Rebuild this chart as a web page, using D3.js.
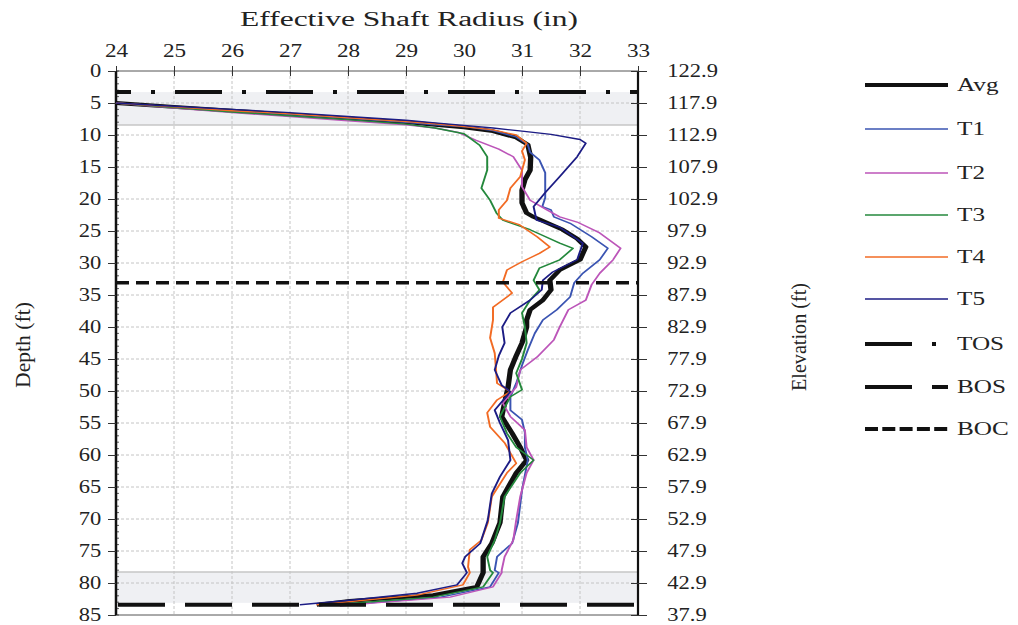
<!DOCTYPE html>
<html>
<head>
<meta charset="utf-8">
<script src="https://cdn.jsdelivr.net/npm/d3@7/dist/d3.min.js"></script>
<style>
  body { margin: 0; background: #fff; }
  text { font-family: "Liberation Serif", "Times New Roman", serif; fill: #222; }
</style>
</head>
<body>
<div id="chart"></div>
<script>
///////////////////////////// DATA /////////////////////////////////////

// each point is [depth (ft), effective radius (in)]
avgData = [[5,24],[5.6,25],[6.2,26],[6.8,27],[7.4,28],[8.0,29],[8.4,29.5],[8.8,30],[9.4,30.5],[10.4,30.9],[11.5,31.1],[12.3,31.12],[13.5,31.15],[15.5,31.14],[17,31.05],[18.6,31.0],[20.6,31.0],[22.2,31.08],[22.8,31.2],[24.8,31.7],[26.2,31.95],[27.5,32.1],[29.5,32.0],[31.1,31.65],[32.7,31.48],[34.2,31.5],[35.8,31.36],[37.3,31.14],[38.9,31.08],[40,31.08],[42.5,31.0],[44.5,30.9],[46.7,30.8],[49.4,30.76],[51.9,30.7],[54,30.65],[56.6,30.83],[58.8,30.97],[60.8,31.08],[62.8,30.9],[66.5,30.67],[70.6,30.62],[73.8,30.48],[75.9,30.33],[78,30.33],[78.4,30.33],[80.6,30.22],[81.9,29.47],[82.8,28.03],[83.4,27.46]];

t1Data = [[5,24],[5.6,25],[6.2,26],[6.8,27],[7.4,28],[8.0,29],[8.4,29.5],[8.7,30],[9.3,30.5],[10.3,30.9],[11.5,31.1],[12.7,31.14],[13.9,31.3],[15.9,31.4],[18,31.4],[19.8,31.4],[21.2,31.35],[21.7,31.5],[22.8,31.55],[23.8,31.83],[25.9,32.2],[27.7,32.48],[29.5,32.34],[31.6,32.05],[33.1,31.9],[35.3,31.83],[37.3,31.6],[38.9,31.36],[41,31.22],[43.6,31.1],[46,31.0],[48.8,30.9],[50.9,30.8],[53,30.8],[54.5,31.0],[56.5,31.05],[58.8,31.05],[60.8,31.1],[65.5,31.0],[70.6,30.93],[73.8,30.83],[75.9,30.57],[78,30.53],[78.4,30.6],[80.6,30.45],[82.2,29.6],[83.1,28.4],[83.5,27.7]];

t2Data = [[5,24],[5.8,25],[6.5,26],[7.1,27],[7.8,28],[8.4,29],[8.9,29.5],[9.6,29.9],[10.8,30.2],[12.2,30.6],[13.4,30.85],[15.5,31.0],[18.1,31.0],[20.2,31.14],[21.7,31.43],[22.8,31.65],[23.6,31.95],[25.3,32.34],[27.7,32.7],[29.5,32.57],[31.6,32.34],[33.4,32.2],[35.8,32.1],[37.3,31.8],[40,31.65],[42,31.55],[44.7,31.26],[46.7,30.97],[49.4,30.9],[51.9,30.67],[54,30.8],[56.1,31.05],[58.8,31.08],[60.8,31.2],[62.8,31.08],[66.5,30.97],[70.2,30.9],[73.3,30.85],[75.9,30.7],[78,30.65],[78.4,30.65],[80.6,30.5],[82.2,29.76],[83.1,28.47],[83.6,27.86]];

t3Data = [[5,24],[5.7,25],[6.4,26],[7.0,27],[7.6,28],[8.3,29],[8.9,29.5],[9.8,30],[11.6,30.27],[13.4,30.4],[15.5,30.4],[18.3,30.3],[20.2,30.45],[22.2,30.56],[23.3,30.67],[24.8,31.14],[26.9,31.65],[27.7,31.88],[29.5,31.65],[30.8,31.3],[32.7,31.2],[34.2,31.3],[35.8,31.14],[37.8,31.0],[40,31.05],[42.5,31.08],[45,31.0],[47.2,30.9],[49.8,31.0],[50.9,30.8],[54,30.62],[56.6,30.74],[58.8,30.9],[60.8,31.2],[62.8,30.97],[66.5,30.7],[70.6,30.62],[73.3,30.53],[75.9,30.4],[78,30.45],[78.4,30.5],[80.6,30.33],[82.2,29.47],[83,28.3],[83.5,27.6]];

t4Data = [[5,24],[5.6,25],[6.2,26],[6.7,27],[7.3,28],[7.9,29],[8.25,29.5],[8.7,30],[9.2,30.5],[10.0,30.9],[11.3,31.08],[12.5,31.0],[13.9,31.05],[16.5,30.97],[18.3,30.8],[20.2,30.74],[21.7,30.6],[23.0,30.6],[24.0,30.95],[25.9,31.26],[27.5,31.48],[28.5,31.3],[29.8,31.0],[31.1,30.74],[33,30.67],[34.7,30.83],[36.9,30.5],[38.9,30.5],[41.7,30.45],[44.1,30.53],[48.8,30.57],[50.1,30.8],[51.4,30.57],[53.4,30.4],[55.6,30.45],[58.1,30.7],[61.3,30.9],[62.8,30.74],[66.5,30.48],[70.6,30.41],[73.3,30.3],[74.8,30.1],[77.5,30.07],[78.4,30.1],[80.3,29.98],[81.9,29.19],[83.4,27.46]];

t5Data = [[5,24],[5.5,25],[6.0,26],[6.5,27],[7.1,28],[7.7,29],[8.1,29.5],[8.5,30],[8.9,30.5],[9.4,31],[9.9,31.5],[10.7,32.0],[11.3,32.1],[13.4,31.95],[16.5,31.65],[19,31.4],[21.2,31.2],[23.3,31.25],[24.4,31.65],[26.9,32.05],[29.5,31.95],[31.4,31.53],[32.7,31.36],[34.2,31.34],[35.8,31.14],[37.8,30.8],[40,30.66],[42.5,30.7],[44.5,30.6],[46.7,30.53],[49.1,30.65],[50.1,30.8],[53,30.53],[55,30.62],[57.7,30.76],[60.8,30.8],[63.4,30.62],[66,30.48],[70.2,30.41],[73.8,30.28],[75.9,30.02],[76.9,29.97],[78.4,30.05],[80.3,29.88],[81.6,29.19],[82.7,28.03],[83.4,27.17]];

seriesNames = ["Avg", "T1", "T2", "T3", "T4", "T5"];
seriesColors = ["#111111", "#3a54b2", "#bc55b9", "#24883c", "#f26b24", "#1c1c84"];

// marker depths (ft)
tosDepth = 3.3;
bocDepth = 33.1;
bosDepth = 83.4;
// shaded zones [top, bottom] depth (ft)
shadeZones = [[3.3, 8.45], [78.3, 83.1]];

radiusTicks = [24, 25, 26, 27, 28, 29, 30, 31, 32, 33];
depthTicks = d3.range(0, 86, 5);
topElevation = 122.9;

///////////////////////////// CHART OPTIONS /////////////////////////////////////

width = 1018;
height = 625;
plotLeft = 116;
plotRight = 638;
plotTop = 71;
plotBottom = 615;
stretch = 1.4; // source picture is stretched sideways, so vertical strokes look heavier

xScale = d3.scaleLinear().domain([24, 33]).range([plotLeft, plotRight]);
yScale = d3.scaleLinear().domain([0, 85]).range([plotTop, plotBottom]);

svg = d3.select("#chart").append("svg")
    .attr("width", width)
    .attr("height", height);

// shaded zones
svg.selectAll(".zone")
    .data(shadeZones).enter()
    .append("rect")
    .attr("class", "zone")
    .attr("x", plotLeft)
    .attr("width", plotRight - plotLeft)
    .attr("y", d => yScale(d[0]))
    .attr("height", d => yScale(d[1]) - yScale(d[0]))
    .attr("fill", "#eff0f3");

svg.selectAll(".zoneEdge")
    .data([shadeZones[0][1], shadeZones[1][0]]).enter()
    .append("line")
    .attr("x1", plotLeft).attr("x2", plotRight)
    .attr("y1", d => yScale(d)).attr("y2", d => yScale(d))
    .attr("stroke", "#c6c6c6")
    .attr("stroke-width", 1.5);

// grid
svg.append("g").selectAll("line")
    .data(radiusTicks.slice(1, -1)).enter()
    .append("line")
    .attr("x1", d => xScale(d)).attr("x2", d => xScale(d))
    .attr("y1", plotTop).attr("y2", plotBottom)
    .attr("stroke", "#c4c4c4")
    .attr("stroke-dasharray", "3,2");

svg.append("g").selectAll("line")
    .data(depthTicks.slice(1, -1)).enter()
    .append("line")
    .attr("x1", plotLeft).attr("x2", plotRight)
    .attr("y1", d => yScale(d)).attr("y2", d => yScale(d))
    .attr("stroke", "#c4c4c4")
    .attr("stroke-dasharray", "3,2");

// frame
svg.append("line").attr("x1", plotLeft).attr("x2", plotRight).attr("y1", plotTop).attr("y2", plotTop)
    .attr("stroke", "#555").attr("stroke-width", 1);
svg.append("line").attr("x1", plotLeft).attr("x2", plotRight).attr("y1", plotBottom).attr("y2", plotBottom)
    .attr("stroke", "#555").attr("stroke-width", 1);

// minor ticks on left edge
svg.append("g").selectAll("line")
    .data(d3.range(0, 86, 1)).enter()
    .append("line")
    .attr("x1", plotLeft).attr("x2", plotLeft + 3)
    .attr("y1", d => yScale(d)).attr("y2", d => yScale(d))
    .attr("stroke", "#333").attr("stroke-width", 0.8);

///////////////////////////// AXES /////////////////////////////////////

topAxis = d3.axisTop(xScale).tickValues(radiusTicks).tickSize(5).tickFormat(d3.format("d"));
leftAxis = d3.axisLeft(yScale).tickValues(depthTicks).tickSize(8).tickFormat(d3.format("d"));
rightAxis = d3.axisRight(yScale).tickValues(depthTicks).tickSize(8)
    .tickFormat(d => (topElevation - d).toFixed(1));

gTop = svg.append("g").attr("transform", `translate(0, ${plotTop})`).call(topAxis);
gTop.select(".domain").remove();
gTop.selectAll(".tick line").attr("y1", 5).attr("y2", -5).attr("stroke", "#333");
gTop.selectAll(".tick text")
    .attr("y", -14)
    .attr("transform", "scale(1.22,1)")
    .style("font-size", "19px");

gLeft = svg.append("g").attr("transform", `translate(${plotLeft}, 0)`).call(leftAxis);
gLeft.select(".domain").attr("stroke", "#111").attr("stroke-width", 2.5).attr("d", `M0,${plotTop}V${plotBottom}`);
gLeft.selectAll(".tick line").attr("stroke", "#333");
gLeft.selectAll(".tick text")
    .attr("x", -12)
    .attr("dy", "0.31em")
    .attr("transform", "scale(1.22,1)")
    .style("font-size", "18.5px");

gRight = svg.append("g").attr("transform", `translate(${plotRight}, 0)`).call(rightAxis);
gRight.select(".domain").attr("stroke", "#111").attr("stroke-width", 2.2).attr("d", `M0,${plotTop}V${plotBottom}`);
gRight.selectAll(".tick line").attr("x1", -7).attr("x2", 9).attr("stroke", "#333");
gRight.selectAll(".tick text")
    .attr("x", 24)
    .attr("dy", "0.31em")
    .attr("transform", "scale(1.22,1)")
    .style("font-size", "18.5px");

svg.selectAll(".tick text").style("font-family", "'Liberation Serif', serif").attr("fill", "#222");

// axis titles
svg.append("text")
    .attr("x", 409).attr("y", 26)
    .attr("text-anchor", "middle")
    .attr("textLength", 338)
    .attr("lengthAdjust", "spacingAndGlyphs")
    .style("font-size", "20px")
    .text("Effective Shaft Radius (in)");

svg.append("text")
    .attr("transform", "translate(30, 345) rotate(-90)")
    .attr("text-anchor", "middle")
    .attr("textLength", 86)
    .attr("lengthAdjust", "spacingAndGlyphs")
    .style("font-size", "21px")
    .text("Depth (ft)");

svg.append("text")
    .attr("transform", "translate(806, 337) rotate(-90)")
    .attr("text-anchor", "middle")
    .attr("textLength", 108)
    .attr("lengthAdjust", "spacingAndGlyphs")
    .style("font-size", "21px")
    .text("Elevation (ft)");

///////////////////////////// LINES /////////////////////////////////////

// drawn inside a sideways-stretched group; x is divided back by the stretch
line = d3.line()
    .x(d => xScale(d[1]) / stretch)
    .y(d => yScale(d[0]));

allSeries = [avgData, t1Data, t2Data, t3Data, t4Data, t5Data];

svg.append("g").attr("class", "lines")
    .attr("transform", `scale(${stretch},1)`)
    .selectAll("path")
    .data(allSeries).enter()
    .append("path")
    .attr("d", d => line(d))
    .attr("fill", "none")
    .attr("stroke", (d, i) => seriesColors[i])
    .attr("stroke-width", (d, i) => seriesNames[i] == "Avg" ? 3.8 : 1.4)
    .attr("stroke-linejoin", "round");

// TOS / BOC / BOS markers
markers = [
    { name: "TOS", depth: tosDepth, dash: "47,20,4,20", offset: 32, w: 4 },
    { name: "BOS", depth: bosDepth, dash: "47,20", offset: -2, w: 4 },
    { name: "BOC", depth: bocDepth, dash: "13,7", offset: 0, w: 3.5 }
];

svg.append("g").selectAll("line")
    .data(markers).enter()
    .append("line")
    .attr("x1", plotLeft).attr("x2", plotRight)
    .attr("y1", d => yScale(d.depth)).attr("y2", d => yScale(d.depth))
    .attr("stroke", "#111")
    .attr("stroke-width", d => d.w)
    .attr("stroke-dasharray", d => d.dash)
    .attr("stroke-dashoffset", d => d.offset);

///////////////////////////// LEGEND /////////////////////////////////////

legendItems = [
    { name: "Avg", color: "#111", w: 4, dash: null },
    { name: "T1", color: seriesColors[1], w: 1.7, dash: null },
    { name: "T2", color: seriesColors[2], w: 1.7, dash: null },
    { name: "T3", color: seriesColors[3], w: 1.7, dash: null },
    { name: "T4", color: seriesColors[4], w: 1.7, dash: null },
    { name: "T5", color: seriesColors[5], w: 1.7, dash: null },
    { name: "TOS", color: "#111", w: 4, dash: "47,20,4,20" },
    { name: "BOS", color: "#111", w: 4, dash: "47,20,16,20" },
    { name: "BOC", color: "#111", w: 4, dash: "13,4.3" }
];
legendY = [85, 129, 173, 215, 257, 299, 344, 387, 429];

legend = svg.append("g").selectAll("g")
    .data(legendItems).enter()
    .append("g")
    .attr("transform", (d, i) => `translate(865, ${legendY[i]})`);

legend.append("line")
    .attr("x1", 0).attr("x2", 83)
    .attr("stroke", d => d.color)
    .attr("stroke-width", d => d.w)
    .attr("stroke-dasharray", d => d.dash);

legend.append("text")
    .attr("x", 0).attr("dy", "0.35em")
    .attr("transform", "translate(92,0) scale(1.4,1)")
    .style("font-size", "18px")
    .text(d => d.name);
</script>
</body>
</html>
